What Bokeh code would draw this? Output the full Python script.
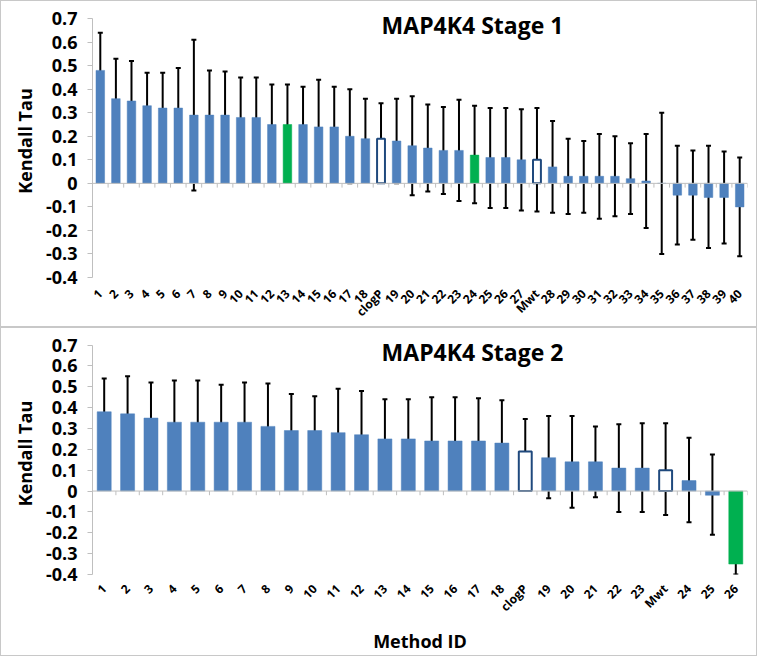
import math
from bokeh.plotting import figure
from bokeh.models import ColumnDataSource, Whisker, TeeHead, FixedTicker, Label, Span
from bokeh.layouts import column
from bokeh.embed import file_html
from bokeh.resources import INLINE

# ---------------- data: Stage 1 ----------------
labels1 = ["1", "2", "3", "4", "5", "6", "7", "8", "9", "10", "11", "12", "13", "14",
           "15", "16", "17", "18", "clogP", "19", "20", "21", "22", "23", "24", "25",
           "26", "27", "Mwt", "28", "29", "30", "31", "32", "33", "34", "35", "36",
           "37", "38", "39", "40"]
tau1 = [0.48, 0.36, 0.35, 0.33, 0.32, 0.32, 0.29, 0.29, 0.29, 0.28, 0.28, 0.25, 0.25, 0.25,
        0.24, 0.24, 0.20, 0.19, 0.19, 0.18, 0.16, 0.15, 0.14, 0.14, 0.12, 0.11,
        0.11, 0.10, 0.10, 0.07, 0.03, 0.03, 0.03, 0.03, 0.02, 0.01, 0.00, -0.05,
        -0.05, -0.06, -0.06, -0.10]
hi1 = [0.64, 0.53, 0.52, 0.47, 0.47, 0.49, 0.61, 0.48, 0.475, 0.45, 0.45, 0.42, 0.42, 0.41,
       0.44, 0.41, 0.40, 0.36, 0.34, 0.36, 0.37, 0.335, 0.325, 0.355, 0.33, 0.32,
       0.32, 0.315, 0.32, 0.265, 0.19, 0.18, 0.21, 0.20, 0.17, 0.21, 0.30, 0.16,
       0.14, 0.16, 0.135, 0.11]
lo1 = [0.32, 0.195, 0.185, 0.19, 0.17, 0.155, -0.03, 0.10, 0.105, 0.11, 0.11, 0.08, 0.08, 0.09,
       0.035, 0.07, 0.00, 0.02, 0.04, 0.00, -0.05, -0.035, -0.045, -0.075, -0.085, -0.105,
       -0.105, -0.115, -0.12, -0.125, -0.13, -0.125, -0.15, -0.14, -0.13, -0.19, -0.30, -0.26,
       -0.24, -0.275, -0.255, -0.31]
kind1 = ["m"] * 12 + ["g"] + ["m"] * 5 + ["h"] + ["m"] * 5 + ["g"] + ["m"] * 3 + ["h"] + ["m"] * 13

# ---------------- data: Stage 2 ----------------
labels2 = ["1", "2", "3", "4", "5", "6", "7", "8", "9", "10", "11", "12", "13", "14",
           "15", "16", "17", "18", "clogP", "19", "20", "21", "22", "23", "Mwt", "24",
           "25", "26"]
tau2 = [0.38, 0.37, 0.35, 0.33, 0.33, 0.33, 0.33, 0.31, 0.29, 0.29, 0.28, 0.27, 0.25, 0.25,
        0.24, 0.24, 0.24, 0.23, 0.19, 0.16, 0.14, 0.14, 0.11, 0.11, 0.10, 0.05,
        -0.02, -0.35]
hi2 = [0.54, 0.55, 0.52, 0.53, 0.53, 0.51, 0.52, 0.515, 0.465, 0.455, 0.49, 0.48, 0.44, 0.44,
       0.45, 0.45, 0.445, 0.435, 0.345, 0.36, 0.36, 0.31, 0.32, 0.325, 0.325, 0.255,
       0.175, -0.18]
lo2 = [0.22, 0.19, 0.18, 0.13, 0.13, 0.15, 0.145, 0.11, 0.115, 0.125, 0.07, 0.06, 0.06, 0.065,
       0.035, 0.035, 0.035, 0.03, 0.04, -0.035, -0.08, -0.03, -0.10, -0.10, -0.115, -0.15,
       -0.21, -0.40]
kind2 = ["m"] * 18 + ["h"] + ["m"] * 5 + ["h"] + ["m"] * 2 + ["g"]

y_ticks = [0.7, 0.6, 0.5, 0.4, 0.3, 0.2, 0.1, 0.0, -0.1, -0.2, -0.3, -0.4]
y_tick_labels = ["0.7", "0.6", "0.5", "0.4", "0.3", "0.2", "0.1", "0", "-0.1", "-0.2", "-0.3", "-0.4"]

FONT = "Open Sans"
BLUE = "#4f81bd"
GREEN = "#00b050"
NAVY = "#1f497d"
GRAY = "#bfbfbf"


def panel(title, labels, tau, lo, hi, kinds, height, top, frame_h, right, bar_w,
          title_x, title_y, tick_len, label_standoff, xlabel=None):
    n = len(labels)
    xs = list(range(1, n + 1))
    p = figure(width=757, height=height, x_range=(0.5, n + 0.5), y_range=(-0.4, 0.76),
               output_backend="svg", toolbar_location=None,
               min_border_left=91, min_border_right=right, min_border_top=top,
               min_border_bottom=height - top - frame_h)
    p.outline_line_color = None
    p.xgrid.visible = False
    p.ygrid.visible = False
    p.background_fill_color = "white"
    p.border_fill_color = "white"

    # zero line and category boundary ticks
    p.add_layout(Span(location=0, dimension="width", line_color=GRAY, line_width=1))
    bounds = [i + 0.5 for i in range(0, n + 1)]
    p.segment(x0=bounds, y0=[0] * len(bounds), x1=bounds, y1=[-tick_len] * len(bounds),
              line_color=GRAY, line_width=1)

    fx = [x for x, k in zip(xs, kinds) if k != "h"]
    ft = [t for t, k in zip(tau, kinds) if k != "h"]
    fc = [GREEN if k == "g" else BLUE for k in kinds if k != "h"]
    p.vbar(x=fx, top=ft, bottom=0, width=bar_w, fill_color=fc, line_color=fc, line_width=0.5)

    hx = [x for x, k in zip(xs, kinds) if k == "h"]
    ht = [t for t, k in zip(tau, kinds) if k == "h"]
    p.vbar(x=hx, top=ht, bottom=0, width=bar_w * 0.92, fill_color="white",
           line_color=NAVY, line_width=2)

    src = ColumnDataSource(dict(x=xs, lo=lo, hi=hi))
    w = Whisker(base="x", upper="hi", lower="lo", source=src, line_color="black", line_width=2,
                upper_head=TeeHead(size=5, line_width=2, line_color="black"),
                lower_head=TeeHead(size=5, line_width=2, line_color="black"))
    p.add_layout(w)

    # axes
    ya = p.yaxis[0]
    ya.ticker = FixedTicker(ticks=y_ticks)
    ya.bounds = (min(y_ticks), max(y_ticks))
    ya.major_label_overrides = {t: s for t, s in zip(y_ticks, y_tick_labels)}
    ya.axis_line_color = GRAY
    ya.major_tick_line_color = GRAY
    ya.major_tick_out = 5
    ya.major_tick_in = 0
    ya.minor_tick_line_color = None
    ya.major_label_text_font = FONT
    ya.major_label_text_font_style = "bold"
    ya.major_label_text_font_size = "18px"
    ya.major_label_text_color = "black"
    ya.major_label_standoff = 10
    ya.axis_label = "Kendall Tau"
    ya.axis_label_text_font = FONT
    ya.axis_label_text_font_style = "bold"
    ya.axis_label_text_font_size = "18px"
    ya.axis_label_text_color = "black"
    ya.axis_label_standoff = 6

    xa = p.xaxis[0]
    xa.ticker = FixedTicker(ticks=xs)
    xa.major_label_overrides = {x: s for x, s in zip(xs, labels)}
    xa.axis_line_color = None
    xa.major_tick_line_color = None
    xa.minor_tick_line_color = None
    xa.major_label_orientation = math.pi / 4
    xa.major_label_text_font = FONT
    xa.major_label_text_font_style = "bold"
    xa.major_label_text_font_size = "12px"
    xa.major_label_text_color = "black"
    xa.major_label_standoff = label_standoff
    if xlabel:
        xa.axis_label = xlabel
        xa.axis_label_text_font = FONT
        xa.axis_label_text_font_style = "bold"
        xa.axis_label_text_font_size = "18px"
        xa.axis_label_text_color = "black"
        xa.axis_label_standoff = 5

    p.add_layout(Label(x=title_x, y=title_y, x_units="screen", y_units="data", text=title,
                       text_font=FONT, text_font_style="bold", text_font_size="23px",
                       text_align="center", text_baseline="middle", text_color="black"))
    p.styles = {"border": "1px solid #c8c8c8"}
    return p


p1 = panel("MAP4K4 Stage 1", labels1, tau1, lo1, hi1, kind1, height=327, top=3, frame_h=274,
           right=11, bar_w=0.55, title_x=380, title_y=0.672, tick_len=0.018, label_standoff=8)
p2 = panel("MAP4K4 Stage 2", labels2, tau2, lo2, hi2, kind2, height=329, top=4, frame_h=242,
           right=8, bar_w=0.6, title_x=380, title_y=0.665, tick_len=0.02, label_standoff=6,
           xlabel="Method ID")

layout = column(p1, p2, spacing=0)
open("out.html", "w").write(file_html(layout, INLINE))
